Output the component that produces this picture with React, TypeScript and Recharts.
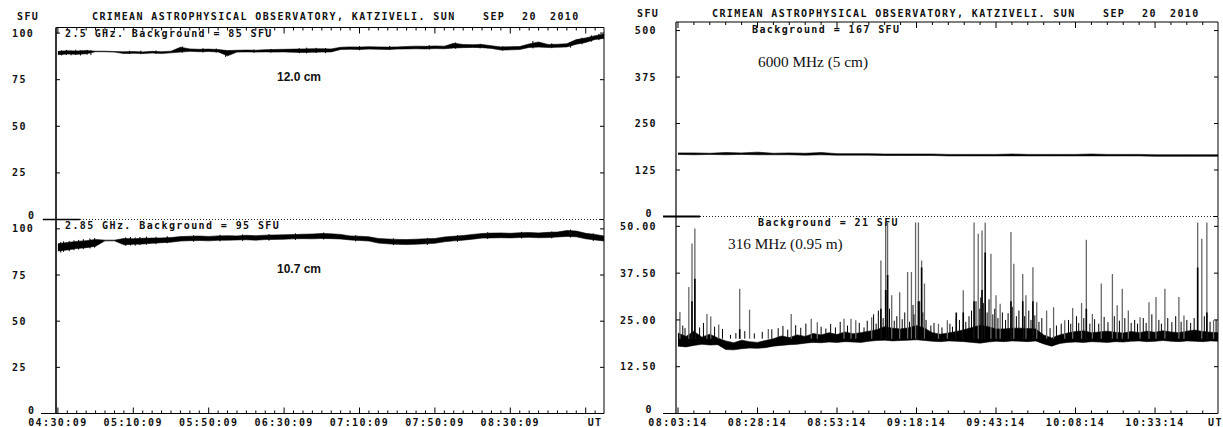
import React from 'react';
import { ComposedChart, Area, Line, XAxis, YAxis, ReferenceLine } from 'recharts';

// Crimean Astrophysical Observatory, Katziveli - solar radio flux, 20 Sep 2010

// left panel: minutes after 04:30:09 UT, one sample every 5 min
const ghzStep = 5;
const ghz25Low = [
  88.4, 88.8, 88.6, 88.9, 90.0, 90.0, 89.8, 89.0, 89.2, 89.0,
  89.3, 89.1, 89.4, 89.8, 90.2, 90.0, 90.1, 89.9, 87.8, 89.8,
  89.9, 89.8, 89.9, 89.8, 89.9, 89.7, 89.6, 89.7, 89.8, 89.9,
  91.2, 91.3, 91.2, 91.4, 91.3, 91.2, 91.4, 91.5, 91.6, 91.5,
  91.7, 91.6, 92.0, 92.2, 92.3, 92.2, 91.8, 90.9, 91.0, 91.2,
  92.3, 92.5, 92.3, 92.4, 92.6, 94.0, 95.0, 96.6, 97.2,
];
const ghz25High = [
  90.2, 90.5, 90.4, 90.6, 90.3, 90.3, 90.1, 90.0, 90.1, 89.9,
  90.2, 90.0, 90.3, 92.4, 91.5, 91.3, 91.4, 91.2, 90.6, 90.8,
  90.9, 90.8, 91.1, 91.2, 91.3, 91.4, 91.5, 91.6, 91.6, 91.5,
  92.4, 92.6, 92.5, 92.7, 92.6, 92.5, 92.6, 92.8, 93.0, 92.9,
  93.1, 93.0, 94.5, 93.9, 93.8, 93.9, 93.2, 92.6, 92.7, 92.8,
  94.2, 95.2, 93.9, 94.0, 94.3, 96.5, 97.4, 98.6, 99.5,
];
// short noise strokes on the 2.5 GHz trace
const ghz25NoiseTimes = [
  2, 4.5, 7, 9.5, 12, 15.5, 17.5, 38, 44, 52,
  66, 77, 84, 89, 104, 113, 128, 132, 137, 142,
  160, 176, 197, 211, 224, 236, 252, 262, 272, 278,
  283, 287,
];
const ghz25NoiseLow = [
  88.0, 88.2, 88.1, 88.3, 88.0, 88.4, 88.2, 88.8, 88.7, 88.9,
  89.5, 89.6, 89.5, 87.2, 89.4, 89.5, 89.2, 89.1, 89.3, 89.2,
  90.8, 90.9, 91.2, 91.6, 91.8, 90.5, 91.8, 91.9, 92.2, 94.0,
  95.4, 96.2,
];
const ghz25NoiseHigh = [
  90.8, 91.0, 90.6, 91.1, 90.7, 91.0, 90.8, 90.5, 90.6, 90.7,
  92.8, 91.9, 91.7, 90.4, 91.2, 91.5, 92.0, 92.2, 92.1, 92.0,
  93.0, 93.1, 93.5, 95.0, 94.3, 93.0, 95.8, 94.5, 95.2, 97.5,
  98.8, 99.6,
];
const ghz285Low = [
  88.0, 88.6, 89.4, 89.8, 90.6, 93.5, 93.5, 91.4, 91.6, 91.8,
  92.2, 92.5, 92.8, 93.4, 93.6, 93.7, 93.5, 93.8, 93.9, 94.0,
  94.1, 93.9, 94.2, 94.3, 94.4, 94.6, 94.7, 94.6, 94.8, 94.7,
  94.5, 94.0, 93.7, 93.4, 92.3, 91.9, 91.6, 91.5, 91.7, 91.9,
  92.2, 93.0, 93.5, 93.9, 94.4, 95.0, 95.1, 95.2, 95.1, 95.3,
  95.4, 95.2, 95.3, 95.6, 95.9, 95.7, 94.6, 94.0, 93.4,
];
const ghz285High = [
  92.0, 92.6, 93.2, 93.6, 94.3, 93.9, 93.9, 94.8, 94.6, 94.9,
  95.0, 95.1, 95.3, 95.8, 96.0, 96.1, 95.9, 96.2, 96.3, 96.2,
  96.5, 96.3, 96.6, 96.7, 96.8, 96.9, 97.1, 97.2, 97.5, 97.3,
  97.0, 96.2, 96.0, 95.7, 94.8, 94.5, 94.3, 94.2, 94.4, 94.6,
  94.8, 95.6, 96.0, 96.4, 97.0, 97.5, 97.7, 97.8, 97.6, 97.9,
  98.0, 97.8, 98.1, 98.3, 99.1, 98.8, 97.6, 97.0, 96.1,
];
// short noise strokes on the 2.85 GHz trace
const ghz285NoiseTimes = [
  1.5, 3, 6, 8.5, 11, 13.5, 17, 19.5, 36, 38.5,
  41, 43.5, 47, 52, 58, 72, 86, 98, 112, 126,
  141, 158, 178, 196, 212, 228, 246, 262, 272, 284,
];
const ghz285NoiseLow = [
  87.2, 87.6, 87.9, 88.4, 88.8, 89.0, 89.4, 89.8, 90.8, 91.0,
  90.9, 91.2, 91.4, 91.7, 92.2, 93.0, 93.2, 93.5, 93.6, 94.0,
  94.2, 93.2, 91.2, 91.3, 93.0, 94.5, 94.8, 94.8, 95.3, 93.5,
];
const ghz285NoiseHigh = [
  92.8, 93.2, 93.4, 93.8, 94.0, 94.4, 94.8, 95.0, 95.4, 95.6,
  95.3, 95.6, 95.8, 95.7, 96.0, 96.6, 96.8, 97.0, 97.2, 97.6,
  98.0, 96.6, 94.9, 95.1, 96.6, 98.2, 98.4, 98.6, 99.6, 97.5,
];
const ghzTimeLabels = ['04:30:09', '05:10:09', '05:50:09', '06:30:09', '07:10:09', '07:50:09', '08:30:09'];
const ghzSfuTicks = [0, 25, 50, 75, 100];
const ghzSfuLabels = ['0', '25', '50', '75', '100'];

// right panel: minutes after 08:03:14 UT
const mhz6000Step = 5;
const mhz6000Low = [
  167, 166, 167, 166, 167, 166, 166, 166, 165, 166,
  165, 165, 165, 164, 164, 164, 164, 163, 163, 163,
  163, 163, 163, 163, 163, 163, 163, 163, 163, 163,
  162, 162, 162, 162, 162,
];
const mhz6000High = [
  171, 171, 170, 172, 171, 173, 170, 171, 170, 172,
  169, 169, 169, 168, 168, 168, 168, 167, 167, 167,
  167, 168, 167, 167, 167, 167, 168, 167, 167, 167,
  166, 166, 166, 166, 166,
];
const mhz316Step = 2.5;
const mhz316Low = [
  18.0, 17.8, 18.2, 18.5, 18.3, 18.4, 17.1, 17.0, 17.3, 17.5,
  17.4, 17.6, 18.0, 18.2, 18.4, 18.5, 18.8, 19.0, 18.9, 19.1,
  19.0, 19.2, 19.1, 19.0, 19.3, 19.5, 19.6, 19.4, 19.5, 19.6,
  19.7, 19.5, 19.3, 19.2, 19.4, 19.3, 19.2, 19.0, 18.8, 19.1,
  19.3, 19.2, 19.4, 19.3, 19.2, 19.4, 18.6, 18.0, 18.7, 19.0,
  19.1, 19.0, 19.2, 19.1, 19.0, 19.2, 19.1, 19.3, 19.4, 19.2,
  19.3, 19.5, 19.3, 19.2, 19.4, 19.3, 19.2, 19.4, 19.3,
];
const mhz316High = [
  21.5, 20.6, 22.0, 20.4, 21.2, 20.2, 19.4, 18.9, 19.6, 19.2,
  19.0, 19.5, 20.0, 20.7, 20.3, 21.0, 20.6, 21.4, 21.0, 21.6,
  21.1, 21.8, 21.3, 21.6, 22.0, 22.4, 23.2, 22.8, 22.6, 22.9,
  23.5, 22.8, 21.6, 21.2, 21.5, 21.9, 22.4, 23.0, 23.6, 23.2,
  22.6, 22.6, 22.8, 22.8, 22.7, 22.6, 21.0, 20.2, 21.0, 21.5,
  21.9, 22.1, 21.6, 21.8, 22.0, 21.7, 21.5, 21.9, 21.6, 22.0,
  21.7, 22.1, 21.8, 21.6, 22.0, 22.3, 21.9, 21.7, 21.6,
];
const mhz316Floor = 20;
// tall bursts (drawn grey, as in the scan)
const burstTimes = [
  0.6, 3.4, 4.4, 5.3, 9.1, 10.3, 12.8, 19.4, 22.5, 28.4,
  35.6, 41.9, 43.8, 52.2, 54.4, 55.9, 60.9, 63.8, 65.3, 65.9,
  67.2, 69.7, 72.2, 73.4, 74.7, 75.6, 76.6, 77.5, 81.9, 84.7,
  87.5, 89.7, 93.1, 94.4, 95.6, 96.6, 98.4, 100.0, 101.3, 104.7,
  105.6, 108.4, 109.4, 111.6, 112.8, 115.9, 118.1, 121.6, 124.1, 126.9,
  128.4, 130.3, 133.1, 136.6, 138.1, 139.7, 141.6, 145.3, 148.1, 150.3,
  153.1, 157.5, 159.1, 163.4, 164.7, 166.3, 168.4,
];
const burstPeaks = [
  27.1, 33.8, 45.4, 49.4, 26.6, 25.9, 23.8, 33.3, 27.7, 22.6,
  26.6, 25.3, 24.4, 25.3, 25.3, 24.9, 25.7, 40.9, 51, 51,
  31.6, 32.4, 37.8, 37.8, 51, 51, 40.9, 34.7, 24.0, 24.9,
  25.3, 32.9, 51, 48.0, 48.9, 51, 42.7, 31.6, 29.3, 48.5,
  40.0, 37.3, 31.6, 39.1, 29.7, 27.5, 28.4, 24.9, 28.2, 29.5,
  46.4, 26.6, 34.7, 37.3, 28.9, 33.3, 27.5, 25.7, 29.7, 31.1,
  33.3, 31.1, 26.2, 51, 46.7, 51, 24.9,
];
// short dense spikes on top of the noise band
const hairTimes = [
  1.5, 2.2, 6.8, 8.0, 11.5, 14.0, 16.5, 18.2, 21.0, 24.0,
  26.5, 29.5, 31.5, 33.0, 34.5, 37.0, 38.6, 40.2, 45.0, 46.5,
  48.0, 49.5, 51.0, 53.3, 57.0, 58.5, 59.5, 61.5, 62.3, 63.0,
  64.5, 66.5, 68.0, 68.8, 70.5, 71.3, 72.8, 73.9, 74.2, 76.0,
  77.0, 78.0, 79.5, 80.5, 83.0, 85.5, 86.3, 88.5, 90.5, 91.5,
  92.3, 93.7, 94.9, 95.2, 96.0, 97.2, 97.8, 99.0, 99.6, 100.6,
  102.0, 103.0, 103.8, 105.1, 106.4, 107.2, 109.0, 110.3, 111.0, 112.2,
  113.5, 114.4, 117.0, 119.0, 120.5, 122.8, 123.5, 125.3, 126.0, 127.6,
  129.5, 131.0, 132.3, 134.0, 135.2, 137.2, 138.8, 140.5, 142.5, 143.6,
  144.5, 146.3, 147.2, 149.0, 151.2, 152.0, 154.0, 155.3, 156.5, 158.2,
  160.0, 161.2, 162.3, 165.5, 167.3, 169.2,
];
const hairPeaks = [
  23.5, 22.8, 23.0, 24.2, 23.2, 22.6, 21.0, 21.5, 22.0, 21.4,
  21.8, 22.5, 22.8, 23.4, 22.4, 23.6, 22.9, 24.0, 23.2, 22.7,
  23.9, 23.0, 24.5, 23.5, 24.2, 23.0, 24.8, 26.5, 24.0, 27.5,
  25.5, 28.0, 24.8, 26.0, 25.2, 27.0, 24.5, 29.0, 26.5, 30.0,
  27.0, 25.0, 23.5, 24.2, 23.0, 24.0, 23.2, 25.0, 24.5, 26.0,
  27.5, 30.0, 28.0, 31.0, 29.5, 27.0, 30.5, 26.5, 28.0, 25.5,
  27.0, 25.0, 26.8, 28.5, 26.0, 27.5, 26.0, 27.5, 25.0, 26.2,
  24.5, 25.5, 22.8, 23.5, 24.0, 25.0, 24.0, 26.0, 24.2, 25.5,
  24.0, 25.2, 24.0, 25.8, 24.4, 26.0, 24.8, 25.5, 24.2, 25.0,
  24.0, 25.5, 24.2, 26.5, 25.0, 24.0, 25.5, 24.4, 26.0, 24.5,
  25.0, 24.2, 25.5, 26.0, 24.5, 25.0,
];
// darker lower parts of the strongest bursts
const coreTimes = [4.4, 5.3, 19.4, 63.8, 65.3, 65.9, 75.6, 76.6, 87.5, 89.7, 93.1, 95.6, 96.6, 104.7, 108.4, 111.6, 128.4, 163.4, 166.3];
const corePeaks = [30, 36, 22.5, 28, 33, 37, 30, 39, 27, 27, 30, 33, 43, 30, 30, 30, 28, 39, 27];
const mhzTimeLabels = ['08:03:14', '08:28:14', '08:53:14', '09:18:14', '09:43:14', '10:08:14', '10:33:14'];
const mhz6000Ticks = [0, 125, 250, 375, 500];
const mhz6000Labels = ['0', '125', '250', '375', '500'];
const mhz316Ticks = [0, 12.5, 25, 37.5, 50];
const mhz316Labels = ['0', '12.50', '25.00', '37.50', '50.00'];

const bandRows = (low: number[], high: number[], step: number) =>
  low.map((v, i) => ({ t: i * step, band: [v, high[i]] }));
const strokeRows = (times: number[], low: number[], high: number[]) =>
  times.flatMap((t, i) => [{ t, v: low[i] }, { t, v: high[i] }, { t, v: null }]);
const spikeRows = (times: number[], peaks: number[], floor: number) =>
  strokeRows(times, times.map(() => floor), peaks);

const ghz25Rows = bandRows(ghz25Low, ghz25High, ghzStep);
const ghz285Rows = bandRows(ghz285Low, ghz285High, ghzStep);
const ghz25NoiseRows = strokeRows(ghz25NoiseTimes, ghz25NoiseLow, ghz25NoiseHigh);
const ghz285NoiseRows = strokeRows(ghz285NoiseTimes, ghz285NoiseLow, ghz285NoiseHigh);
const mhz6000Rows = bandRows(mhz6000Low, mhz6000High, mhz6000Step);
const mhz316Rows = bandRows(mhz316Low, mhz316High, mhz316Step);
const burstRows = spikeRows(burstTimes, burstPeaks, mhz316Floor);
const hairRows = spikeRows(hairTimes, hairPeaks, mhz316Floor);
const coreRows = spikeRows(coreTimes, corePeaks, mhz316Floor);

// 5-minute minor ticks, plus the spot where "UT" is written
const ghzTicks = Array.from({ length: 58 }, (_, i) => i * 5);
const mhzTicks = [...Array.from({ length: 34 }, (_, i) => i * 5), 169];

const mono: React.CSSProperties = {
  fontFamily: '"DejaVu Sans Mono", monospace',
  fontSize: 10,
  fontWeight: 700,
  letterSpacing: 1.4,
  fill: '#111',
};

function TimeTick(p: any) {
  const v = p.payload.value;
  const major = Math.abs(v / p.every - Math.round(v / p.every)) < 1e-6;
  const onGrid = Math.abs(v / 5 - Math.round(v / 5)) < 1e-6;
  const len = major ? 6 : 3;
  const label = v === p.utAt ? 'UT' : major ? p.names[Math.round(v / p.every)] : undefined;
  return (
    <g>
      {onGrid && <line x1={p.x} x2={p.x} y1={p.y} y2={p.y + p.dir * len} stroke="#000" strokeWidth={1} />}
      {p.showNames && label && (
        <text x={p.x} y={p.y + 12} textAnchor="middle" style={mono}>
          {label}
        </text>
      )}
    </g>
  );
}

function SfuTick(p: any) {
  const v = p.payload.value;
  const name = p.names ? p.names[p.values.indexOf(v)] : undefined;
  const isZero = v === 0;
  const lx = p.x + (isZero ? p.zeroDx : p.labelDx);
  const ly = p.y + 3.6 - (isZero ? p.zeroLift : 0);
  return (
    <g>
      <line x1={p.x} x2={p.x + p.dir * 4} y1={p.y} y2={p.y} stroke="#000" strokeWidth={1} />
      {name && (
        <text x={lx} y={ly} textAnchor={p.anchor} style={mono}>
          {name}
        </text>
      )}
    </g>
  );
}

type StripProps = {
  left: number;
  top: number;
  width: number;
  height: number;
  padTop: number;
  padBottom: number;
  axisAt: 'top' | 'bottom';
  xDomain: [number, number];
  timeTicks: number[];
  every: number;
  timeLabels: string[];
  utAt: number;
  yDomain: [number, number];
  yTicks: number[];
  yLabels: string[];
  labelDx: number;
  anchor: 'start' | 'end';
  zeroDx: number;
  zeroLift: number;
  leftWidth: number;
  rightWidth: number;
  spine: { stroke: string; strokeWidth: number };
  data: object[];
  children: React.ReactNode;
};

function Strip(s: StripProps) {
  const inward = s.axisAt === 'top' ? 1 : -1;
  return (
    <div style={{ position: 'absolute', left: s.left, top: s.top, width: s.width, height: s.height }}>
      <ComposedChart
        width={s.width}
        height={s.height}
        data={s.data}
        margin={{ top: s.padTop, right: 0, bottom: s.padBottom, left: 0 }}
      >
        <XAxis
          xAxisId="t"
          type="number"
          dataKey="t"
          orientation={s.axisAt}
          height={s.axisAt === 'top' ? 1 : 14}
          domain={s.xDomain}
          allowDataOverflow
          ticks={s.timeTicks}
          interval={0}
          tickLine={false}
          tickSize={0}
          tickMargin={0}
          axisLine={{ stroke: '#000', strokeWidth: 1 }}
          tick={(p: any) => (
            <TimeTick
              {...p}
              every={s.every}
              names={s.timeLabels}
              utAt={s.utAt}
              dir={inward}
              showNames={s.axisAt === 'bottom'}
            />
          )}
        />
        <YAxis
          yAxisId="sfu"
          type="number"
          orientation="left"
          width={s.leftWidth}
          domain={s.yDomain}
          allowDataOverflow
          ticks={s.yTicks}
          interval={0}
          tickLine={false}
          tickSize={0}
          tickMargin={0}
          axisLine={s.spine}
          tick={(p: any) => (
            <SfuTick
              {...p}
              names={s.yLabels}
              values={s.yTicks}
              dir={1}
              labelDx={s.labelDx}
              anchor={s.anchor}
              zeroDx={s.zeroDx}
              zeroLift={s.zeroLift}
            />
          )}
        />
        <YAxis
          yAxisId="edge"
          type="number"
          orientation="right"
          width={s.rightWidth}
          domain={s.yDomain}
          allowDataOverflow
          ticks={s.yTicks}
          interval={0}
          tickLine={false}
          tickSize={0}
          tickMargin={0}
          axisLine={{ stroke: '#000', strokeWidth: 1 }}
          tick={(p: any) => <SfuTick {...p} values={s.yTicks} dir={-1} />}
        />
        {s.children}
      </ComposedChart>
    </div>
  );
}

function band(key: string) {
  return (
    <Area
      key={key}
      xAxisId="t"
      yAxisId="sfu"
      type="linear"
      dataKey="band"
      stroke="#000"
      strokeWidth={0.6}
      fill="#000"
      fillOpacity={1}
      dot={false}
      activeDot={false}
      isAnimationActive={false}
    />
  );
}

function spikes(key: string, rows: object[], color: string, width: number) {
  return (
    <Line
      key={key}
      xAxisId="t"
      yAxisId="sfu"
      data={rows}
      dataKey="v"
      type="linear"
      stroke={color}
      strokeWidth={width}
      dot={false}
      activeDot={false}
      connectNulls={false}
      isAnimationActive={false}
    />
  );
}

const title = 'CRIMEAN ASTROPHYSICAL OBSERVATORY, KATZIVELI. SUN';
const dateParts = [
  { text: 'SEP', dx: 391 },
  { text: '20', dx: 430 },
  { text: '2010', dx: 458 },
];

function Header({ x, y, sfuX }: { x: number; y: number; sfuX: number }) {
  return (
    <g>
      <text x={sfuX} y={y} style={mono}>SFU</text>
      <text x={x} y={y} style={mono}>{title}</text>
      {dateParts.map((d) => (
        <text key={d.text} x={x + d.dx} y={y} style={mono}>
          {d.text}
        </text>
      ))}
    </g>
  );
}

const ghzX: [number, number] = [-1, 289.7];
const mhzX: [number, number] = [-0.63, 169.8];

const sans: React.CSSProperties = { fontFamily: '"Liberation Sans", Arial, sans-serif', fontSize: 12, fontWeight: 700, fill: '#111' };
const serif: React.CSSProperties = { fontFamily: '"Liberation Serif", "Times New Roman", serif', fontSize: 15.3, fill: '#111' };

export default function App() {
  const leftCommon = {
    left: 0,
    width: 620,
    xDomain: ghzX,
    timeTicks: ghzTicks,
    every: 40,
    timeLabels: ghzTimeLabels,
    utAt: 285,
    yTicks: ghzSfuTicks,
    yLabels: ghzSfuLabels,
    labelDx: -44,
    anchor: 'start' as const,
    zeroDx: -28,
    leftWidth: 56,
    rightWidth: 16,
    spine: { stroke: '#333', strokeWidth: 2 },
  };
  const rightCommon = {
    left: 600,
    width: 623,
    xDomain: mhzX,
    timeTicks: mhzTicks,
    every: 25,
    timeLabels: mhzTimeLabels,
    utAt: 169,
    labelDx: -19,
    anchor: 'end' as const,
    zeroDx: -23,
    leftWidth: 76,
    rightWidth: 5,
    spine: { stroke: '#000', strokeWidth: 1.2 },
  };

  return (
    <div style={{ position: 'absolute', left: 0, top: 0, width: 1223, height: 427, background: '#fff' }}>
      {/* 2.5 GHz */}
      <Strip
        {...leftCommon}
        top={0}
        height={221.5}
        padTop={26.5}
        padBottom={2}
        axisAt="top"
        yDomain={[0, 103]}
        zeroLift={4.5}
        data={ghz25Rows}
      >
        {spikes('n25', ghz25NoiseRows, '#000', 1)}
        {band('b25')}
        <ReferenceLine xAxisId="t" yAxisId="sfu" y={0} stroke="#222" strokeDasharray="1 2" />
        <ReferenceLine
          xAxisId="t"
          yAxisId="sfu"
          segment={[{ x: -8, y: 0 }, { x: 11.7, y: 0 }]}
          stroke="#000"
          strokeWidth={1.5}
          ifOverflow="visible"
        />
      </Strip>
      {/* 2.85 GHz */}
      <Strip
        {...leftCommon}
        top={217.5}
        height={209.5}
        padTop={2}
        padBottom={0}
        axisAt="bottom"
        yDomain={[0, 104.8]}
        zeroLift={3}
        data={ghz285Rows}
      >
        {spikes('n285', ghz285NoiseRows, '#000', 1)}
        {band('b285')}
        <ReferenceLine
          xAxisId="t"
          yAxisId="sfu"
          segment={[{ x: -9, y: 0 }, { x: -1, y: 0 }]}
          stroke="#000"
          strokeWidth={1}
          ifOverflow="visible"
        />
      </Strip>
      {/* 6000 MHz */}
      <Strip
        {...rightCommon}
        top={0}
        height={218.5}
        padTop={21}
        padBottom={2}
        axisAt="top"
        yDomain={[0, 523]}
        yTicks={mhz6000Ticks}
        yLabels={mhz6000Labels}
        zeroLift={3}
        data={mhz6000Rows}
      >
        {band('b6000')}
        <ReferenceLine xAxisId="t" yAxisId="sfu" y={0} stroke="#222" strokeDasharray="1 2" />
        <ReferenceLine
          xAxisId="t"
          yAxisId="sfu"
          segment={[{ x: -4.7, y: 0 }, { x: 6.9, y: 0 }]}
          stroke="#000"
          strokeWidth={2}
          ifOverflow="visible"
        />
      </Strip>
      {/* 316 MHz */}
      <Strip
        {...rightCommon}
        top={214.5}
        height={212.5}
        padTop={2}
        padBottom={0}
        axisAt="bottom"
        yDomain={[0, 52.5]}
        yTicks={mhz316Ticks}
        yLabels={mhz316Labels}
        zeroLift={4}
        data={mhz316Rows}
      >
        {spikes('bursts', burstRows, '#666', 1.3)}
        {spikes('hairs', hairRows, '#000', 1)}
        {spikes('cores', coreRows, '#000', 1.6)}
        {band('b316')}
        <ReferenceLine
          xAxisId="t"
          yAxisId="sfu"
          segment={[{ x: -4.7, y: 0 }, { x: -0.63, y: 0 }]}
          stroke="#000"
          strokeWidth={1}
          ifOverflow="visible"
        />
      </Strip>

      <svg width={1223} height={427} style={{ position: 'absolute', left: 0, top: 0, pointerEvents: 'none' }}>
        <Header x={92} y={20} sfuX={17} />
        <Header x={712} y={16.5} sfuX={637} />
        <text x={65} y={37} style={mono}>2.5 GHz. Background = 85 SFU</text>
        <text x={65} y={229} style={mono}>2.85 GHz. Background = 95 SFU</text>
        <text x={752} y={33} style={mono}>Background = 167 SFU</text>
        <text x={758} y={226} style={mono}>Background = 21 SFU</text>
        <text x={277} y={80.5} style={sans}>12.0 cm</text>
        <text x={277} y={273} style={sans}>10.7 cm</text>
        <text x={758} y={66.5} style={serif}>6000 MHz (5 cm)</text>
        <text x={728} y={249} style={serif}>316 MHz (0.95 m)</text>
      </svg>
    </div>
  );
}
